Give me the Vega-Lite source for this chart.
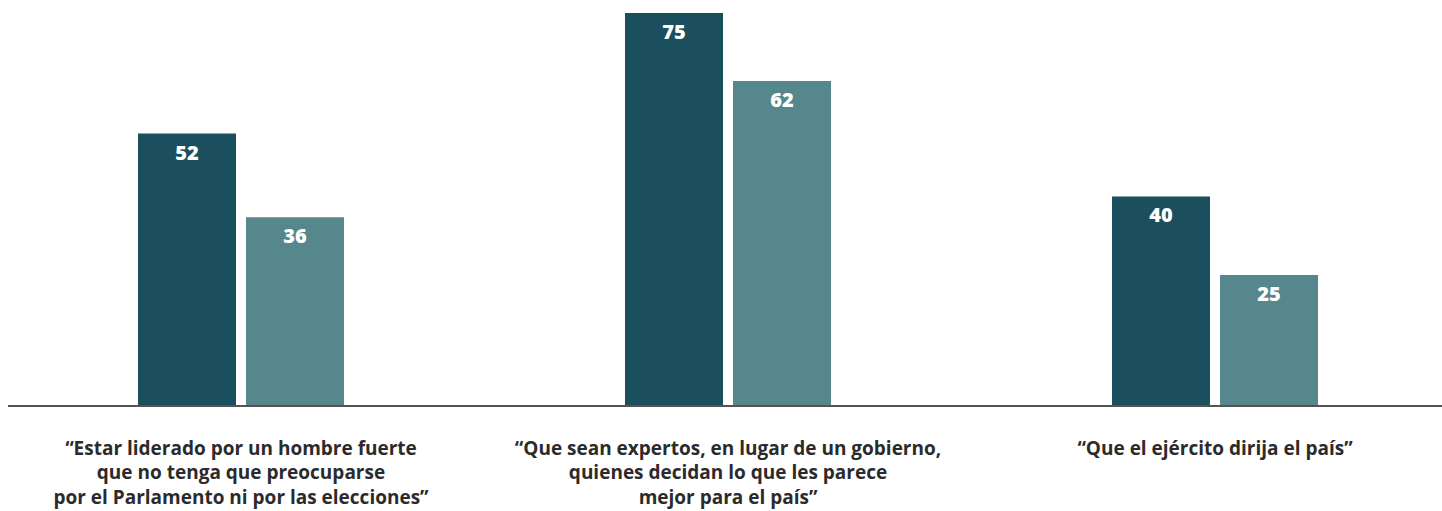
{
  "$schema": "https://vega.github.io/schema/vega-lite/v6.json",
  "autosize": "none",
  "width": 1434,
  "height": 393,
  "padding": {"top": 13, "left": 8, "right": 0, "bottom": 105},
  "background": "white",
  "config": {"view": {"stroke": null}},
  "data": {
    "values": [
      {"q": "“Estar liderado por un hombre fuerte|que no tenga que preocuparse|por el Parlamento ni por las elecciones”", "s": "A", "v": 52},
      {"q": "“Estar liderado por un hombre fuerte|que no tenga que preocuparse|por el Parlamento ni por las elecciones”", "s": "B", "v": 36},
      {"q": "“Que sean expertos, en lugar de un gobierno,|quienes decidan lo que les parece|mejor para el país”", "s": "A", "v": 75},
      {"q": "“Que sean expertos, en lugar de un gobierno,|quienes decidan lo que les parece|mejor para el país”", "s": "B", "v": 62},
      {"q": "“Que el ejército dirija el país”", "s": "A", "v": 40},
      {"q": "“Que el ejército dirija el país”", "s": "B", "v": 25}
    ]
  },
  "layer": [
    {
      "mark": {"type": "bar"},
      "encoding": {
        "x": {
          "field": "q", "type": "nominal", "sort": null,
          "scale": {"range": [-10.5, 1450.5], "paddingInner": 0, "paddingOuter": 0},
          "axis": {
            "title": null, "domain": false, "ticks": false, "labelAngle": 0,
            "labelExpr": "split(datum.label, '|')",
            "labelFont": "Open Sans", "labelFontWeight": "bold", "labelFontSize": 19,
            "labelColor": "#2b2b2b", "labelLineHeight": 24.5, "labelPadding": 33,
            "labelLimit": 0
          }
        },
        "xOffset": {
          "field": "s", "type": "nominal",
          "scale": {"domain": ["p1", "A", "B", "p2"], "paddingInner": 0.0926, "paddingOuter": 0.3009}
        },
        "y": {"field": "v", "type": "quantitative", "scale": {"domain": [0, 75], "nice": false, "zero": true}, "axis": null},
        "color": {
          "field": "s", "type": "nominal",
          "scale": {"domain": ["A", "B"], "range": ["#1b4f5e", "#56878c"]},
          "legend": null
        }
      }
    },
    {
      "mark": {"type": "text", "baseline": "middle", "dy": 20, "font": "Open Sans", "fontWeight": 800, "fontSize": 20, "color": "white"},
      "encoding": {
        "x": {"field": "q", "type": "nominal", "sort": null},
        "xOffset": {"field": "s", "type": "nominal"},
        "y": {"field": "v", "type": "quantitative", "scale": {"domain": [0, 75], "nice": false, "zero": true}},
        "text": {"field": "v", "type": "quantitative"}
      }
    },
    {
      "mark": {"type": "rule", "color": "#555555", "strokeWidth": 1.5},
      "encoding": {"y": {"datum": 0, "scale": {"domain": [0, 75], "nice": false, "zero": true}}}
    }
  ]
}
